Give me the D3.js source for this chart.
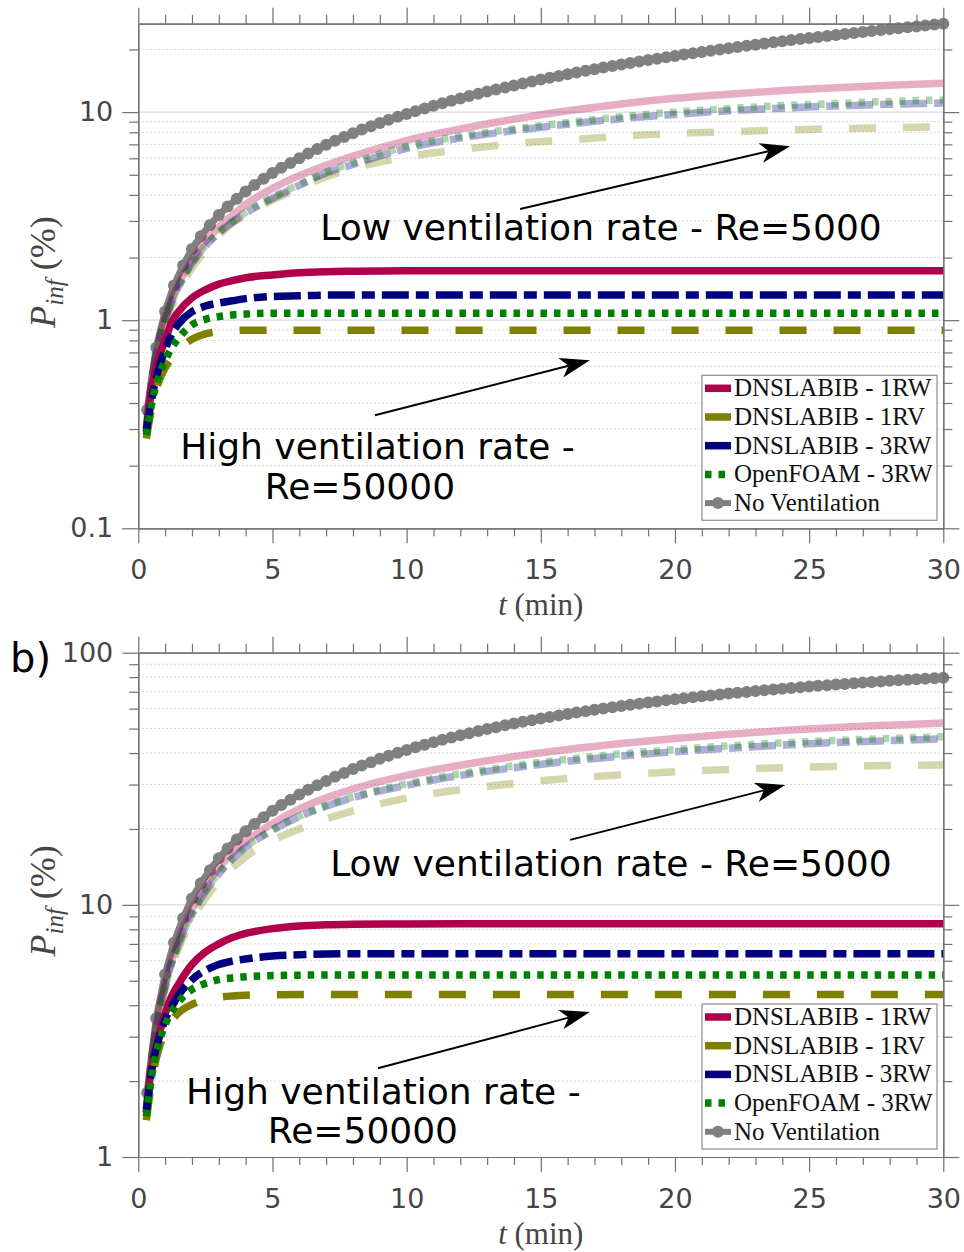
<!DOCTYPE html>
<html>
<head>
<meta charset="utf-8">
<script src="https://cdn.jsdelivr.net/npm/d3@7"></script>
<style>
body{margin:0;background:#fff}
svg{display:block}
</style>
</head>
<body>
<svg id="fig" width="964" height="1252"></svg>
<script>
// sample times (min) of the ventilated runs
var tVent = [0.3,0.5,0.75,1,1.25,1.5,2,2.5,3,3.5,4,5,6,7,8,10,12,14,16,18,20,22,24,26,28,30]
// sample times (min) of the no-ventilation run (one marker every 20 s)
var tNoVent = [0.33,0.67,1,1.33,1.67,2,2.33,2.67,3,3.33,3.67,4,4.33,4.67,5,5.33,5.67,6,6.33,6.67,7,7.33,7.67,8,8.33,8.67,9,9.33,9.67,10,
  10.33,10.67,11,11.33,11.67,12,12.33,12.67,13,13.33,13.67,14,14.33,14.67,15,15.33,15.67,16,16.33,16.67,17,17.33,17.67,18,18.33,18.67,19,19.33,19.67,20,
  20.33,20.67,21,21.33,21.67,22,22.33,22.67,23,23.33,23.67,24,24.33,24.67,25,25.33,25.67,26,26.33,26.67,27,27.33,27.67,28,28.33,28.67,29,29.33,29.67,30]

var seriesNames = ["DNSLABIB - 1RW","DNSLABIB - 1RV","DNSLABIB - 3RW","OpenFOAM - 3RW","No Ventilation"]

// ---- panel a) P_inf (%)
// high ventilation rate, Re=50000
var a_1RW_hi = [0.30,0.47,0.65,0.80,0.98,1.10,1.28,1.40,1.49,1.55,1.60,1.65,1.69,1.71,1.72,1.73,1.73,1.73,1.73,1.73,1.73,1.73,1.73,1.73,1.73,1.73]
var a_1RV_hi = [0.27,0.38,0.50,0.59,0.66,0.72,0.81,0.86,0.88,0.89,0.895,0.895,0.895,0.895,0.895,0.895,0.895,0.895,0.895,0.895,0.895,0.895,0.895,0.895,0.895,0.895]
var a_3RW_hi = [0.29,0.42,0.58,0.72,0.86,0.96,1.10,1.17,1.21,1.24,1.27,1.30,1.31,1.32,1.32,1.32,1.32,1.32,1.32,1.32,1.32,1.32,1.32,1.32,1.32,1.32]
var a_OF_hi  = [0.28,0.40,0.53,0.64,0.74,0.82,0.95,1.01,1.04,1.06,1.07,1.08,1.08,1.08,1.08,1.08,1.08,1.08,1.08,1.08,1.08,1.08,1.08,1.08,1.08,1.08]
// low ventilation rate, Re=5000
var a_1RW_lo = [0.31,0.52,0.78,1.03,1.27,1.50,1.95,2.38,2.80,3.18,3.60,4.30,4.95,5.55,6.15,7.30,8.30,9.25,10.15,10.95,11.65,12.20,12.70,13.10,13.45,13.75]
var a_1RV_lo = [0.29,0.48,0.72,0.95,1.17,1.38,1.78,2.15,2.55,2.93,3.20,3.78,4.30,4.89,5.35,6.10,6.60,7.05,7.35,7.65,7.90,8.05,8.20,8.32,8.42,8.50]
var a_3RW_lo = [0.30,0.50,0.76,1.00,1.23,1.45,1.88,2.27,2.63,2.95,3.27,3.85,4.45,5.10,5.60,6.70,7.50,8.15,8.75,9.30,9.75,10.15,10.45,10.70,10.90,11.05]
var a_OF_lo  = [0.30,0.50,0.76,1.00,1.23,1.45,1.88,2.28,2.65,2.98,3.30,3.90,4.50,5.15,5.70,6.85,7.65,8.30,8.90,9.50,10.00,10.40,10.75,11.00,11.25,11.45]
var a_noVent = [0.37,0.74,1.10,1.47,1.83,2.20,2.53,2.87,3.20,3.52,3.83,4.15,4.47,4.78,5.10,5.40,5.70,6.00,6.32,6.65,6.97,7.29,7.60,7.92,8.24,8.55,8.87,9.18,9.49,9.80,
  10.11,10.42,10.73,11.03,11.34,11.64,11.94,12.25,12.55,12.85,13.14,13.44,13.74,14.03,14.33,14.62,14.92,15.21,15.50,15.79,16.08,16.37,16.65,16.94,17.22,17.51,17.79,18.07,18.35,18.63,
  18.91,19.18,19.46,19.74,20.01,20.29,20.56,20.83,21.10,21.37,21.64,21.91,22.18,22.44,22.71,22.97,23.24,23.50,23.76,24.02,24.28,24.54,24.79,25.05,25.31,25.56,25.82,26.07,26.33,26.58]

// ---- panel b) P_inf (%)
var b_1RW_hi = [1.55,2.30,3.00,3.70,4.35,4.85,5.80,6.50,7.00,7.42,7.70,8.05,8.25,8.33,8.37,8.40,8.41,8.41,8.41,8.41,8.41,8.41,8.41,8.41,8.41,8.41]
var b_1RV_hi = [1.40,2.00,2.65,3.15,3.48,3.73,4.03,4.20,4.30,4.35,4.38,4.40,4.41,4.41,4.41,4.41,4.41,4.41,4.41,4.41,4.41,4.41,4.41,4.41,4.41,4.41]
var b_3RW_hi = [1.50,2.20,2.90,3.50,3.95,4.38,5.05,5.50,5.80,5.98,6.10,6.27,6.34,6.38,6.40,6.40,6.40,6.40,6.40,6.40,6.40,6.40,6.40,6.40,6.40,6.40]
var b_OF_hi  = [1.45,2.10,2.80,3.35,3.78,4.12,4.62,4.88,5.05,5.13,5.19,5.24,5.26,5.27,5.27,5.27,5.27,5.27,5.27,5.27,5.27,5.27,5.27,5.27,5.27,5.27]
var b_1RW_lo = [1.55,2.50,3.70,4.90,6.10,7.30,9.60,11.8,14.0,16.0,17.8,21.0,24.0,26.6,28.8,32.6,35.8,38.7,41.3,43.6,45.7,47.5,49.1,50.5,51.6,52.6]
var b_1RV_lo = [1.45,2.40,3.50,4.60,5.70,6.70,8.70,10.6,12.4,14.0,15.5,18.0,20.0,21.9,23.6,26.5,28.6,30.3,31.7,32.8,33.7,34.4,35.0,35.4,35.7,35.9]
var b_3RW_lo = [1.50,2.45,3.60,4.75,5.90,7.00,9.20,11.3,13.3,15.2,16.9,19.8,22.4,24.6,26.6,29.8,32.6,35.0,37.1,38.9,40.5,41.8,43.0,44.0,44.8,45.5]
var b_OF_lo  = [1.50,2.45,3.60,4.75,5.90,7.00,9.25,11.4,13.4,15.3,17.0,19.9,22.5,24.8,26.8,30.2,33.1,35.6,37.8,39.7,41.3,42.7,43.9,44.9,45.7,46.4]
var b_noVent = [1.80,3.55,5.30,7.08,8.85,10.60,12.17,13.73,15.30,16.73,18.17,19.60,20.93,22.27,23.60,24.87,26.13,27.40,28.60,29.80,31.00,32.19,33.37,34.56,35.69,36.81,37.94,39.01,40.07,41.14,
  42.15,43.17,44.18,45.14,46.10,47.06,47.97,48.88,49.79,50.65,51.52,52.38,53.20,54.02,54.84,55.62,56.39,57.17,57.91,58.64,59.38,60.08,60.78,61.48,62.14,62.81,63.47,64.10,64.72,65.35,
  65.95,66.54,67.14,67.71,68.27,68.84,69.38,69.91,70.45,70.96,71.46,71.97,72.45,72.94,73.42,73.88,74.33,74.79,75.22,75.66,76.09,76.50,76.92,77.33,77.72,78.11,78.50,78.87,79.23,79.60]

// ticks
var xMajor = [0,5,10,15,20,25,30]
var xMinor = [1,2,3,4,6,7,8,9,11,12,13,14,16,17,18,19,21,22,23,24,26,27,28,29]
var yMajorA = [0.1,1,10]
var yMinorA = [0.2,0.3,0.4,0.5,0.6,0.7,0.8,0.9,2,3,4,5,6,7,8,9,20]
var yMajorB = [1,10,100]
var yMinorB = [2,3,4,5,6,7,8,9,20,30,40,50,60,70,80,90]

var styles = [
  {color:"#b0004b", dash:null},
  {color:"#808000", dash:"27,27"},
  {color:"#000080", dash:"27,7,13,7"},
  {color:"#008000", dash:"6.5,7"}
]
var grey = "#808080"
var axCol = "#707070", txtCol = "#454545"

var svg = d3.select("#fig")
var x = d3.scaleLinear().domain([0, 30]).range([138.3, 943.3])

var panels = [
  {y0:528.3, y1:23.7, dom:[0.1, 26.6], major:yMajorA, minor:yMinorA,
   hi:[a_1RW_hi,a_1RV_hi,a_3RW_hi,a_OF_hi], lo:[a_1RW_lo,a_1RV_lo,a_3RW_lo,a_OF_lo], nv:a_noVent,
   lowText:[6.78,2.43], lowArrow:[[14.23,3.42],[24.29,6.86]],
   hiText1:[1.56,0.215], hiText2:[8.26,0.138], hiArrow:[[8.82,0.349],[16.83,0.642]]},
  {y0:1157, y1:652.7, dom:[1, 100], major:yMajorB, minor:yMinorB,
   hi:[b_1RW_hi,b_1RV_hi,b_3RW_hi,b_OF_hi], lo:[b_1RW_lo,b_1RV_lo,b_3RW_lo,b_OF_lo], nv:b_noVent,
   lowText:[7.15,12.98], lowArrow:[[16.09,18.1],[24.11,29.9]],
   hiText1:[1.78,1.62], hiText2:[8.37,1.137], hiArrow:[[8.93,2.25],[16.83,3.76]]}
]

function arrow(g, p0, p1) {
  var dx = p1[0]-p0[0], dy = p1[1]-p0[1], len = Math.sqrt(dx*dx+dy*dy)
  var ux = dx/len, uy = dy/len, L = 30, w = 10, n = 8
  var bx = p1[0]-ux*L, by = p1[1]-uy*L
  var nx = p1[0]-ux*(L-n), ny = p1[1]-uy*(L-n)
  g.append("line").attr("x1",p0[0]).attr("y1",p0[1]).attr("x2",nx).attr("y2",ny)
    .attr("stroke","#000").attr("stroke-width",2)
  var pts = [[p1[0],p1[1]],[bx-uy*w,by+ux*w],[nx,ny],[bx+uy*w,by-ux*w]]
  g.append("polygon").attr("points", pts.map(function(q){return q.join(",")}).join(" ")).attr("fill","#000")
}

function styleAxis(sel) {
  sel.selectAll("path.domain").attr("stroke",axCol).attr("stroke-width",1.2)
  sel.selectAll("line").attr("stroke",axCol).attr("stroke-width",1.2)
  sel.selectAll("text").attr("fill",txtCol).attr("font-size","27px").attr("font-family","DejaVu Sans")
}

panels.forEach(function(p) {
  var y = d3.scaleLog().domain(p.dom).range([p.y0, p.y1])
  var g = svg.append("g")
  var inside = function(v){ return v > p.dom[0] && v < p.dom[1] }

  // grid
  g.selectAll(null).data(p.minor.filter(inside)).enter().append("line")
    .attr("x1",x(0)).attr("x2",x(30)).attr("y1",function(d){return y(d)}).attr("y2",function(d){return y(d)})
    .attr("stroke","#cdcdcd").attr("stroke-width",1).attr("stroke-dasharray","1.5,2.5")
  g.selectAll(null).data(p.major.filter(inside)).enter().append("line")
    .attr("x1",x(0)).attr("x2",x(30)).attr("y1",function(d){return y(d)}).attr("y2",function(d){return y(d)})
    .attr("stroke","#dadada").attr("stroke-width",1.2)

  var line = d3.line().x(function(d,i){return x(tVent[i])}).y(function(d){return y(d)}).curve(d3.curveMonotoneX)
  var lineNV = d3.line().x(function(d,i){return x(tNoVent[i])}).y(function(d){return y(d)})

  // no ventilation
  g.append("path").attr("d",lineNV(p.nv)).attr("fill","none").attr("stroke",grey).attr("stroke-width",7)
  g.selectAll(null).data(p.nv).enter().append("circle")
    .attr("cx",function(d,i){return x(tNoVent[i])}).attr("cy",function(d){return y(d)}).attr("r",6).attr("fill",grey)

  // low ventilation (faded) then high ventilation
  p.lo.forEach(function(s,k) {
    g.append("path").attr("d",line(s)).attr("fill","none").attr("stroke",styles[k].color)
      .attr("stroke-width",7.5).attr("stroke-opacity",0.32).attr("stroke-dasharray",styles[k].dash)
  })
  p.hi.forEach(function(s,k) {
    g.append("path").attr("d",line(s)).attr("fill","none").attr("stroke",styles[k].color)
      .attr("stroke-width",7.5).attr("stroke-dasharray",styles[k].dash)
  })

  // axes
  var fmt = function(d){return String(d)}
  var a1 = g.append("g").attr("transform","translate(0,"+p.y0+")")
    .call(d3.axisBottom(x).tickValues(xMajor).tickSize(15).tickPadding(17).tickSizeOuter(0).tickFormat(fmt))
  var a2 = g.append("g").attr("transform","translate(0,"+p.y0+")")
    .call(d3.axisBottom(x).tickValues(xMinor).tickSize(8).tickSizeOuter(0).tickFormat(""))
  var a3 = g.append("g").attr("transform","translate(0,"+p.y1+")")
    .call(d3.axisTop(x).tickValues(xMajor).tickSize(16).tickSizeOuter(0).tickFormat(""))
  var a4 = g.append("g").attr("transform","translate(0,"+p.y1+")")
    .call(d3.axisTop(x).tickValues(xMinor).tickSize(9).tickSizeOuter(0).tickFormat(""))
  var a5 = g.append("g").attr("transform","translate("+x(0)+",0)")
    .call(d3.axisLeft(y).tickValues(p.major).tickSize(16).tickPadding(9).tickSizeOuter(0).tickFormat(fmt))
  var a6 = g.append("g").attr("transform","translate("+x(0)+",0)")
    .call(d3.axisLeft(y).tickValues(p.minor).tickSize(9).tickSizeOuter(0).tickFormat(""))
  var a7 = g.append("g").attr("transform","translate("+x(30)+",0)")
    .call(d3.axisRight(y).tickValues(p.major).tickSize(16).tickSizeOuter(0).tickFormat(""))
  var a8 = g.append("g").attr("transform","translate("+x(30)+",0)")
    .call(d3.axisRight(y).tickValues(p.minor).tickSize(9).tickSizeOuter(0).tickFormat(""))
  ;[a1,a2,a3,a4,a5,a6,a7,a8].forEach(styleAxis)

  // axis titles
  g.append("text").attr("x",x(15)).attr("y",p.y0+87).attr("text-anchor","middle")
    .attr("font-family","Liberation Serif").attr("font-size","31px").attr("fill",txtCol)
    .call(function(t){
      t.append("tspan").attr("font-style","italic").text("t")
      t.append("tspan").text(" (min)")
    })
  g.append("text").attr("transform","translate(55,"+((p.y0+p.y1)/2-4)+") rotate(-90)").attr("text-anchor","middle")
    .attr("font-family","Liberation Serif").attr("font-size","36px").attr("fill",txtCol)
    .call(function(t){
      t.append("tspan").attr("font-style","italic").text("P")
      t.append("tspan").attr("font-style","italic").attr("font-size","25px").attr("dy",8).text("inf")
      t.append("tspan").attr("dy",-8).text(" (%)")
    })

  // legend
  var lx = 702, ly = p.y0-153
  var lg = g.append("g")
  lg.append("rect").attr("x",lx).attr("y",ly).attr("width",235).attr("height",145)
    .attr("fill","#fff").attr("stroke","#8c8c8c").attr("stroke-width",1.2)
  seriesNames.forEach(function(name,i) {
    var cy = ly+13+i*28.7
    if (i < 4) {
      lg.append("line").attr("x1",lx+3).attr("x2",lx+29).attr("y1",cy).attr("y2",cy)
        .attr("stroke",styles[i].color).attr("stroke-width",7.5).attr("stroke-dasharray",styles[i].dash)
    } else {
      lg.append("line").attr("x1",lx+3).attr("x2",lx+29).attr("y1",cy).attr("y2",cy)
        .attr("stroke",grey).attr("stroke-width",6)
      lg.append("circle").attr("cx",lx+16).attr("cy",cy).attr("r",6).attr("fill",grey)
    }
    lg.append("text").attr("x",lx+32).attr("y",cy+8).text(name)
      .attr("font-family","Liberation Serif").attr("font-size","25px").attr("fill","#111")
  })

  // annotations
  var note = function(pos, str, anchor) {
    g.append("text").attr("x",x(pos[0])).attr("y",y(pos[1])).attr("text-anchor",anchor)
      .attr("font-family","DejaVu Sans").attr("font-size","36px").attr("fill","#000").text(str)
  }
  note(p.lowText,"Low ventilation rate - Re=5000","start")
  note(p.hiText1,"High ventilation rate -","start")
  note(p.hiText2,"Re=50000","middle")
  arrow(g,[x(p.lowArrow[0][0]),y(p.lowArrow[0][1])],[x(p.lowArrow[1][0]),y(p.lowArrow[1][1])])
  arrow(g,[x(p.hiArrow[0][0]),y(p.hiArrow[0][1])],[x(p.hiArrow[1][0]),y(p.hiArrow[1][1])])
})

svg.append("text").attr("x",10).attr("y",672).text("b)")
  .attr("font-family","DejaVu Sans").attr("font-size","40px").attr("fill","#000")
</script>
</body>
</html>
